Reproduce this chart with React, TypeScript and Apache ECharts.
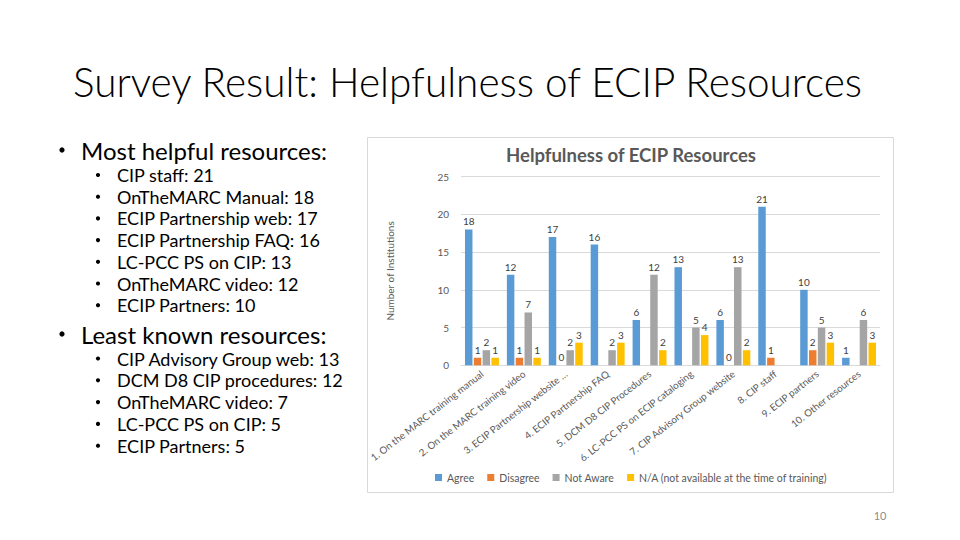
import React, { useEffect, useRef } from "react";
import * as echarts from "echarts";

const slideTitle = "Survey Result: Helpfulness of ECIP Resources";
const helpfulHeading = "Most helpful resources:";
const helpfulItems = [
  "CIP staff: 21",
  "OnTheMARC Manual: 18",
  "ECIP Partnership web: 17",
  "ECIP Partnership FAQ: 16",
  "LC-PCC PS on CIP: 13",
  "OnTheMARC video: 12",
  "ECIP Partners: 10",
];
const leastHeading = "Least known resources:";
const leastItems = [
  "CIP Advisory Group web: 13",
  "DCM D8 CIP procedures: 12",
  "OnTheMARC video: 7",
  "LC-PCC PS on CIP: 5",
  "ECIP Partners: 5",
];
const pageNumber = "10";

const chartTitle = "Helpfulness of ECIP Resources";
const yAxisName = "Number of Institutions";
const categories = [
  "1. On the MARC training manual",
  "2. On the MARC training video",
  "3. ECIP Partnership website …",
  "4. ECIP Partnership FAQ",
  "5. DCM D8 CIP Procedures",
  "6. LC-PCC PS on ECIP cataloging",
  "7. CIP Advisory Group website",
  "8. CIP staff",
  "9. ECIP partners",
  "10. Other resources",
];
const seriesNames = [
  "Agree",
  "Disagree",
  "Not Aware",
  "N/A (not available at the time of training)",
];
const agree = [18, 12, 17, 16, 6, 13, 6, 21, 10, 1];
const disagree = [1, 1, 0, null, null, null, 0, 1, 2, null];
const notAware = [2, 7, 2, 2, 12, 5, 13, null, 5, 6];
const notAvailable = [1, 1, 3, 3, 2, 4, 2, null, 3, 3];
const yMin = 0;
const yMax = 25;
const yInterval = 5;

const colors = ["#5b9bd5", "#ed7d31", "#a5a5a5", "#ffc000"];
const FONT = "Lato, 'Liberation Sans', sans-serif";

export default function App() {
  const ref = useRef<HTMLDivElement>(null);

  useEffect(() => {
    if (!ref.current) return;
    const chart = echarts.init(ref.current, undefined, { renderer: "svg" });

    const graphics: any[] = [];
    graphics.push({
      type: "rect",
      z: 0,
      shape: { x: 367.5, y: 137.5, width: 526, height: 355 },
      style: { fill: "#ffffff", stroke: "#d9d9d9", lineWidth: 1 },
    });
    graphics.push({
      type: "text",
      x: 73,
      y: 81,
      style: {
        text: slideTitle,
        font: `300 40.5px ${FONT}`,
        fill: "#000000",
        textVerticalAlign: "middle",
      },
    });
    const addBullet = (txt: string, y: number, big: boolean) => {
      const bx = big ? 62 : 98;
      const tx = big ? 81 : 117;
      const size = big ? 24 : 18;
      graphics.push({
        type: "circle",
        shape: { cx: bx, cy: y, r: big ? 2.6 : 2.1 },
        style: { fill: "#000000" },
      });
      graphics.push({
        type: "text",
        x: tx,
        y: y,
        style: {
          text: txt,
          font: `${size}px ${FONT}`,
          fill: "#000000",
          textVerticalAlign: "middle",
        },
      });
    };
    addBullet(helpfulHeading, 150, true);
    helpfulItems.forEach((t, i) => addBullet(t, 175 + i * 21.7, false));
    addBullet(leastHeading, 334, true);
    leastItems.forEach((t, i) => addBullet(t, 358.5 + i * 21.8, false));
    graphics.push({
      type: "text",
      x: 631,
      y: 155,
      style: {
        text: chartTitle,
        font: `bold 18.5px ${FONT}`,
        fill: "#595959",
        textAlign: "center",
        textVerticalAlign: "middle",
      },
    });
    graphics.push({
      type: "text",
      x: 880,
      y: 515,
      style: {
        text: pageNumber,
        font: `11px ${FONT}`,
        fill: "#8c8c8c",
        textAlign: "center",
        textVerticalAlign: "middle",
      },
    });

    const dataSets = [agree, disagree, notAware, notAvailable];

    chart.setOption({
      animation: false,
      backgroundColor: "#ffffff",
      textStyle: { fontFamily: FONT },
      graphic: { elements: graphics },
      grid: { left: 461, right: 80, top: 176.6, bottom: 174.7, containLabel: false },
      legend: {
        data: seriesNames,
        left: 430,
        top: 467,
        icon: "rect",
        itemWidth: 7,
        itemHeight: 7,
        itemGap: 13,
        textStyle: { fontSize: 10.5, color: "#595959", fontFamily: FONT },
      },
      xAxis: {
        type: "category",
        data: categories,
        axisTick: { show: false },
        axisLine: { lineStyle: { color: "#d9d9d9" } },
        axisLabel: {
          interval: 0,
          rotate: 38,
          fontSize: 9.8,
          color: "#595959",
          margin: 7,
        },
      },
      yAxis: {
        type: "value",
        min: yMin,
        max: yMax,
        interval: yInterval,
        name: yAxisName,
        nameLocation: "middle",
        nameGap: 66,
        nameTextStyle: { fontSize: 10, color: "#595959" },
        axisLine: { show: false },
        axisTick: { show: false },
        axisLabel: { fontSize: 10, color: "#595959", margin: 12 },
        splitLine: { lineStyle: { color: "#d9d9d9" } },
      },
      series: seriesNames.map((name, i) => ({
        name,
        type: "bar",
        data: dataSets[i],
        barGap: "18%",
        barCategoryGap: "19%",
        itemStyle: { color: colors[i] },
        label: {
          show: true,
          position: "top",
          fontSize: 10,
          color: "#404040",
          distance: 3,
        },
      })),
    });

    return () => chart.dispose();
  }, []);

  return (
    <div
      ref={ref}
      style={{
        position: "absolute",
        left: 0,
        top: 0,
        width: 960,
        height: 540,
        background: "#ffffff",
      }}
    />
  );
}
